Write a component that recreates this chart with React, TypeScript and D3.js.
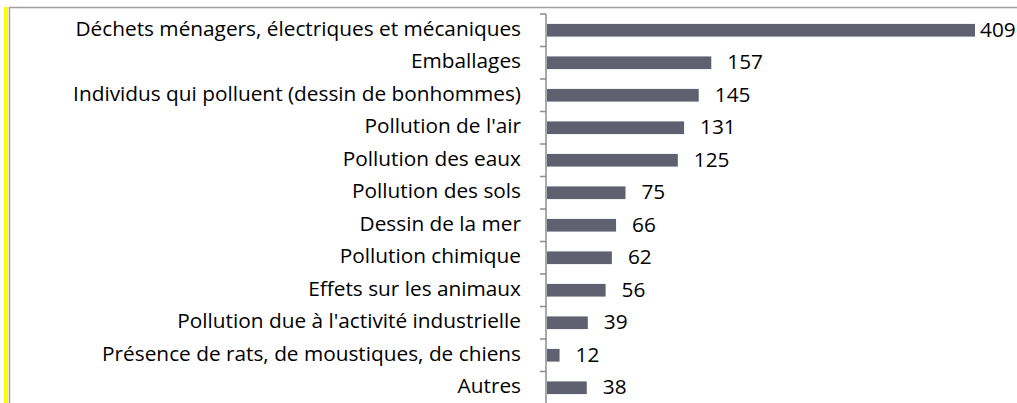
import React from "react";
import * as d3 from "d3";

const categories = [
  "Déchets ménagers, électriques et mécaniques",
  "Emballages",
  "Individus qui polluent (dessin de bonhommes)",
  "Pollution de l'air",
  "Pollution des eaux",
  "Pollution des sols",
  "Dessin de la mer",
  "Pollution chimique",
  "Effets sur les animaux",
  "Pollution due à l'activité industrielle",
  "Présence de rats, de moustiques, de chiens",
  "Autres",
];
const values = [409, 157, 145, 131, 125, 75, 66, 62, 56, 39, 12, 38];

const W = 1017;
const H = 403;
const axisX = 546;
const FONT = "'Open Sans', sans-serif";
const FS = 20.8;

export default function App() {
  const x = d3.scaleLinear().domain([0, 409]).range([axisX + 1, 975]);
  const y = d3.scaleBand<string>().domain(categories).range([14, 404]).paddingInner(0.61).paddingOuter(0.305);
  const step = y.step();
  const ticks = d3.range(categories.length + 1).map((i) => 14 + i * step);

  return (
    <svg width={W} height={H} style={{ position: "absolute", left: 0, top: 0, background: "#fff" }}>
      <rect x={4} y={7} width={4} height={H - 7} fill="#ffff00" />
      <line x1={9.5} y1={7} x2={9.5} y2={H} stroke="#a0a0a0" strokeWidth={1.5} />
      <line x1={9} y1={7.5} x2={W} y2={7.5} stroke="#a0a0a0" strokeWidth={1.5} />
      <line x1={axisX} y1={14} x2={axisX} y2={H} stroke="#8c8c8c" strokeWidth={1.5} />
      {ticks.map((t, i) => (
        <line key={i} x1={axisX - 6} y1={t} x2={axisX} y2={t} stroke="#8c8c8c" strokeWidth={1.5} />
      ))}
      {categories.map((c, i) => {
        const yy = y(c)!;
        const bw = y.bandwidth();
        const end = x(values[i]);
        const lx = Math.min(end + 16, 980);
        return (
          <g key={c}>
            <rect x={x(0)} y={yy} width={end - x(0)} height={bw} fill="#5f6170" />
            <text x={521} y={yy + bw / 2 + 5.5} textAnchor="end" fontFamily={FONT} fontSize={FS} fill="#000">
              {c}
            </text>
            <text x={lx} y={yy + bw / 2 + 6.5} fontFamily={FONT} fontSize={FS} fill="#000">
              {values[i]}
            </text>
          </g>
        );
      })}
    </svg>
  );
}
